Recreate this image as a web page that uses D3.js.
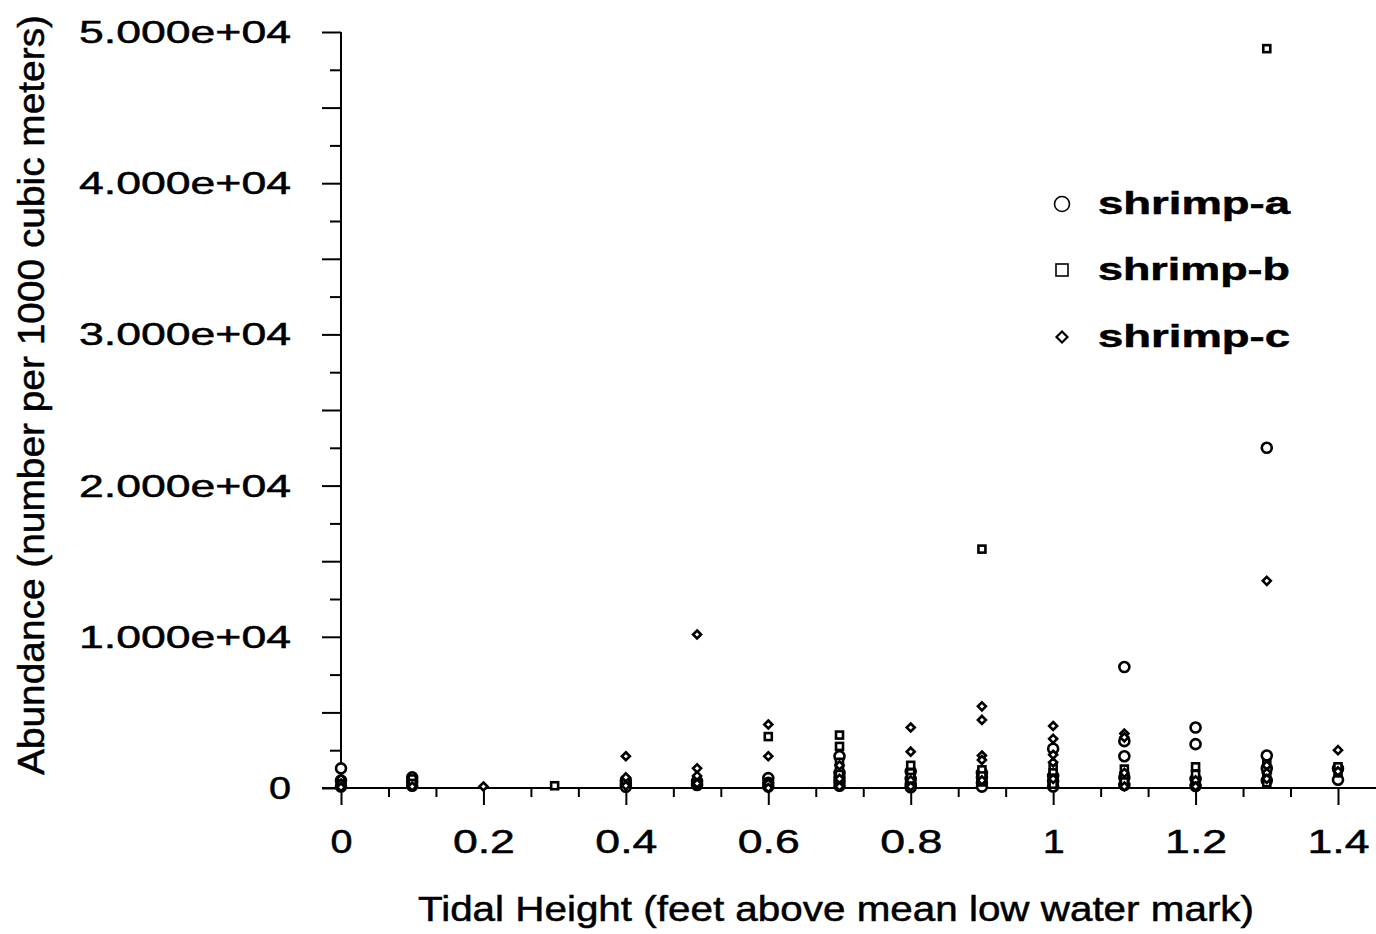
<!DOCTYPE html>
<html><head><meta charset="utf-8">
<script src="https://cdn.jsdelivr.net/npm/d3@7"></script>
<style>
body{margin:0;background:#fff}
text{font-family:"Liberation Sans",Arial,Helvetica,sans-serif;fill:#000;stroke:#000;stroke-width:0.5px}
</style>
</head><body>
<svg id="chart" width="1376" height="934"></svg>
<script>
// ---- data ----
const xTickValues = [0, 0.2, 0.4, 0.6, 0.8, 1, 1.2, 1.4];
const yTickValues = [0, 10000, 20000, 30000, 40000, 50000];
const seriesNames = ["shrimp-a", "shrimp-b", "shrimp-c"];
const xTitle = "Tidal Height (feet above mean low water mark)";
const yTitle = "Abundance (number per 1000 cubic meters)";

// [tidal height, abundance]
const shrimpA = [
  [0,1300],[0,500],[0,100],
  [0.1,700],[0.1,400],[0.1,150],
  [0.4,500],[0.4,250],[0.4,80],
  [0.5,450],[0.5,200],
  [0.6,650],[0.6,350],[0.6,100],
  [0.7,2100],[0.7,1000],[0.7,700],[0.7,400],[0.7,150],
  [0.8,1100],[0.8,600],[0.8,250],[0.8,50],
  [0.9,1000],[0.9,700],[0.9,350],[0.9,90],
  [1.0,2600],[1.0,800],[1.0,450],[1.0,100],
  [1.1,8000],[1.1,3100],[1.1,2100],[1.1,700],[1.1,200],
  [1.2,4000],[1.2,2900],[1.2,600],[1.2,130],
  [1.3,22500],[1.3,2150],[1.3,1300],[1.3,500],
  [1.4,1300],[1.4,550]
];
const shrimpB = [
  [0.1,600],[0.1,300],
  [0.3,150],
  [0.4,350],
  [0.5,550],[0.5,250],
  [0.6,3400],[0.6,300],
  [0.7,3500],[0.7,2750],[0.7,1700],[0.7,1300],[0.7,900],[0.7,500],[0.7,200],
  [0.8,1500],[0.8,1000],[0.8,700],[0.8,250],
  [0.9,15800],[0.9,1200],[0.9,800],[0.9,400],
  [1.0,1400],[1.0,1000],[1.0,650],[1.0,250],
  [1.1,1250],[1.1,800],[1.1,400],
  [1.2,1400],[1.2,900],[1.2,400],
  [1.3,48900],[1.3,1600],[1.3,900],[1.3,350],
  [1.4,1400],[1.4,1000]
];
const shrimpC = [
  [0,600],[0,300],[0,50],
  [0.1,100],
  [0.2,100],
  [0.4,2100],[0.4,700],[0.4,150],
  [0.5,10150],[0.5,1300],[0.5,800],[0.5,300],
  [0.6,4200],[0.6,2100],[0.6,300],[0.6,0],
  [0.7,1500],[0.7,600],[0.7,100],
  [0.8,4000],[0.8,2400],[0.8,500],[0.8,100],
  [0.9,5400],[0.9,4500],[0.9,2150],[0.9,1850],[0.9,500],
  [1.0,4100],[1.0,3250],[1.0,2200],[1.0,1700],[1.0,600],
  [1.1,3600],[1.1,3350],[1.1,1000],[1.1,100],
  [1.2,500],[1.2,100],
  [1.3,13700],[1.3,1500],[1.3,1000],[1.3,600],
  [1.4,2500],[1.4,1100]
];

// ---- chart ----
const svg = d3.select("#chart");
const x = d3.scaleLinear().domain([0, 1.4]).range([341, 1338]);
const y = d3.scaleLinear().domain([0, 50000]).range([788, 32]);
const axisStroke = 2;

// x axis: minor ticks every 0.2/3, major every 0.2
const xMinor = d3.range(0, 1.46, 0.2 / 3).filter(v => Math.abs(v / 0.2 - Math.round(v / 0.2)) > 0.01);
const gxMinor = svg.append("g").attr("transform", `translate(0,${y(0)})`)
  .call(d3.axisBottom(x).tickValues(xMinor).tickSize(9).tickFormat(""));
const gx = svg.append("g").attr("transform", `translate(0,${y(0)})`)
  .call(d3.axisBottom(x).tickValues(xTickValues).tickSize(17).tickFormat(d3.format("")));
[gxMinor, gx].forEach(g => {
  g.select(".domain").remove();
  g.selectAll("line").attr("stroke", "#000").attr("stroke-width", axisStroke);
});
gx.selectAll("text")
  .attr("font-size", 33).attr("dy", null).attr("y", 65)
  .attr("fill", "#000")
  .each(function(d){
    const s = d3.select(this).text();
    d3.select(this).attr("textLength", s.length === 1 ? 22 : 62).attr("lengthAdjust", "spacingAndGlyphs");
  });

// y axis: ticks every 2500 (short), 5000 (long), labels every 10000
const yAll = d3.range(0, 50001, 2500);
const gyMinor = svg.append("g").attr("transform", `translate(${x(0)},0)`)
  .call(d3.axisLeft(y).tickValues(yAll.filter(v => v % 5000 !== 0)).tickSize(11).tickFormat(""));
const gyMajor = svg.append("g").attr("transform", `translate(${x(0)},0)`)
  .call(d3.axisLeft(y).tickValues(yAll.filter(v => v % 5000 === 0)).tickSize(19).tickFormat(""));
[gyMinor, gyMajor].forEach(g => {
  g.select(".domain").remove();
  g.selectAll("line").attr("stroke", "#000").attr("stroke-width", axisStroke);
});
const fmtY = d => d === 0 ? "0" : d.toExponential(3).replace(/e\+(\d)$/, "e+0$1");
svg.append("g").selectAll("text").data(yTickValues).join("text")
  .attr("x", 291).attr("y", d => y(d))
  .attr("text-anchor", "end").attr("dominant-baseline", "central")
  .attr("font-size", 32)
  .attr("textLength", d => d === 0 ? 22 : 212).attr("lengthAdjust", "spacingAndGlyphs")
  .text(fmtY);

// axis lines
svg.append("line").attr("x1", x(0)).attr("x2", x(0)).attr("y1", y(50000)).attr("y2", y(0))
  .attr("stroke", "#000").attr("stroke-width", axisStroke);
svg.append("line").attr("x1", x(0) - 19).attr("x2", 1376).attr("y1", y(0)).attr("y2", y(0))
  .attr("stroke", "#000").attr("stroke-width", axisStroke);

// axis titles
svg.append("text").attr("x", 836).attr("y", 921).attr("text-anchor", "middle")
  .attr("font-size", 35).attr("textLength", 836).attr("lengthAdjust", "spacingAndGlyphs")
  .text(xTitle);
svg.append("text").attr("transform", "translate(44,395) rotate(-90)").attr("text-anchor", "middle")
  .attr("font-size", 36).attr("textLength", 760).attr("lengthAdjust", "spacingAndGlyphs")
  .text(yTitle);

// markers
const mk = {
  circle: (g, s) => g.append("circle").attr("r", s / 2),
  square: (g, s) => g.append("rect").attr("x", -s / 2).attr("y", -s / 2).attr("width", s).attr("height", s),
  diamond: (g, s) => g.append("path").attr("d", `M0,${-s/2}L${s/2},0L0,${s/2}L${-s/2},0Z`)
};
const series = [
  {name: seriesNames[0], data: shrimpA, shape: "circle", size: 10},
  {name: seriesNames[1], data: shrimpB, shape: "square", size: 7},
  {name: seriesNames[2], data: shrimpC, shape: "diamond", size: 8}
];
const plot = svg.append("g");
series.forEach(s => {
  plot.append("g").selectAll("g").data(s.data).join("g")
    .attr("transform", d => `translate(${x(d[0])},${y(d[1])})`)
    .each(function(){ mk[s.shape](d3.select(this), s.size); })
    .selectAll("*").attr("fill", "#fff").attr("stroke", "#000").attr("stroke-width", 2.6);
});

// legend
const legendY = [204, 270, 337];
const legendSizes = [15, 12, 11];
series.forEach((s, i) => {
  const g = svg.append("g").attr("transform", `translate(1062,${legendY[i]})`);
  mk[s.shape](g, legendSizes[i]).attr("fill", "#fff").attr("stroke", "#000").attr("stroke-width", i === 2 ? 2.2 : 1.6);
  svg.append("text").attr("x", 1098).attr("y", legendY[i] + 10)
    .attr("font-size", 31).attr("font-weight", "bold")
    .attr("textLength", 192).attr("lengthAdjust", "spacingAndGlyphs")
    .text(s.name);
});
</script>
</body></html>
